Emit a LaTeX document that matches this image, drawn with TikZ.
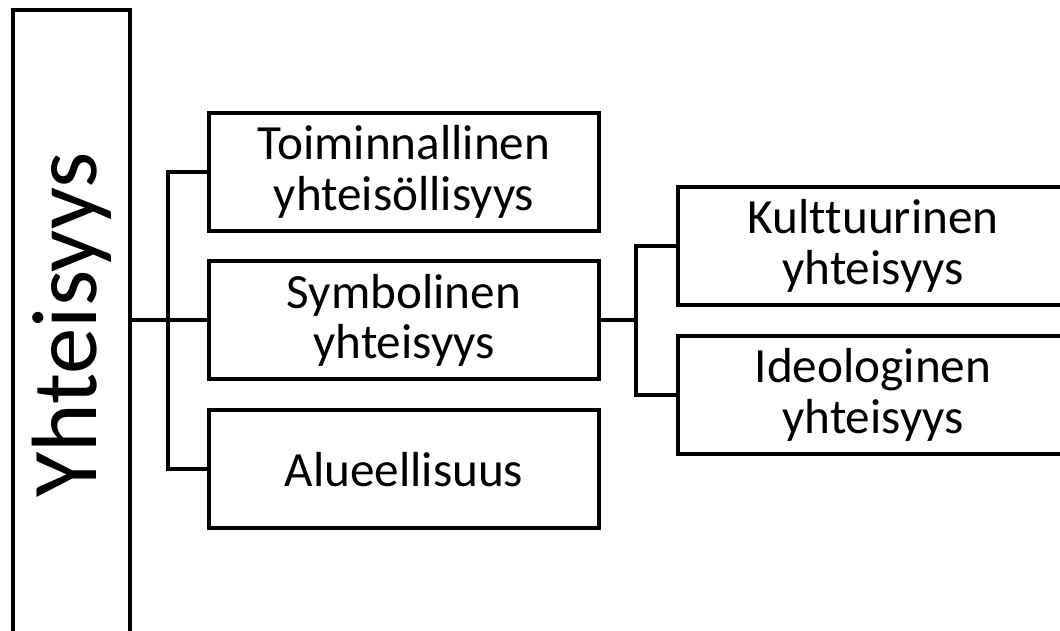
\documentclass[tikz,border=0pt]{standalone}
\usepackage{fontspec}
\setmainfont{Carlito}[Ligatures=NoCommon]
\usetikzlibrary{positioning}

\begin{document}
\begin{tikzpicture}[line width=0.1cm,
  box/.style={draw, minimum width=9.75cm, minimum height=2.95cm, inner sep=0pt,
    align=center, font=\fontsize{35}{36}\selectfont}]
\useasboundingbox (0,0) rectangle (26.5,-15.775);
\clip (0,0) rectangle (26.5,-15.775);

\node[draw, rotate=90, minimum width=15.75cm, minimum height=2.925cm, inner sep=0pt,
  font=\fontsize{66}{70}\selectfont] (yht) at (1.7875,-8.125) {Yhteisyys};

\node[box] (sym) at (10.1,-8.01) {Symbolinen\\yhteisyys};
\node[box] (toim) [above of=sym,node distance=3.72cm] {Toiminnallinen\\yhteisöllisyys};
\node[box] (alue) [below of=sym,node distance=3.72cm] {Alueellisuus};

\node[box] (kult) at (21.825,-6.15) {Kult\kern0pt tuurinen\\yhteisyys};
\node[box] (ideo) [below of=kult,node distance=3.725cm] {Ideologinen\\yhteisyys};

\coordinate (jl) at ([xshift=-0.975cm]sym.west);
\coordinate (jr) at ([xshift=-1cm]kult.west |- sym.east);

\draw (yht.south |- sym.west) -- (sym.west);
\draw (toim.west) -| (jl) |- (alue.west);

\draw (sym.east) -- (jr);
\draw (kult.west) -| (jr) |- (ideo.west);
\end{tikzpicture}
\end{document}
